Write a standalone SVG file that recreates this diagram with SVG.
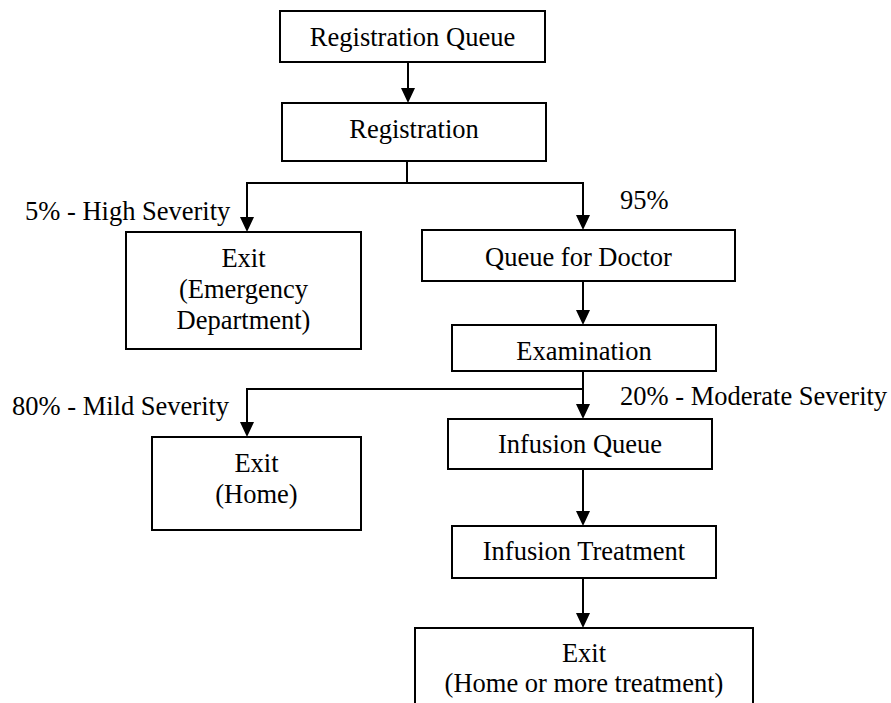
<svg xmlns="http://www.w3.org/2000/svg" width="891" height="703" viewBox="0 0 891 703">
<style>
.box{fill:#fff;stroke:#000;stroke-width:2}
.ln{fill:none;stroke:#000;stroke-width:2}
.ah{fill:#000;stroke:none}
text{font-family:'Liberation Serif','DejaVu Serif','Noto Serif',serif;font-size:26.5px;fill:#000}
.c{text-anchor:middle}
</style>
<rect width="891" height="703" fill="#fff"/>
<g id="connectors">
<line class="ln" x1="408" y1="62" x2="408" y2="90"/>
<polygon class="ah" points="401,88 415,88 408,103"/>
<polyline class="ln" points="407,161 407,183"/>
<polyline class="ln" points="407,183 247,183 247,219"/>
<polygon class="ah" points="240,217 254,217 247,232"/>
<polyline class="ln" points="407,183 583,183 583,217"/>
<polygon class="ah" points="576,215 590,215 583,230"/>
<line class="ln" x1="583" y1="281" x2="583" y2="312"/>
<polygon class="ah" points="576,310 590,310 583,325"/>
<line class="ln" x1="583" y1="371" x2="583" y2="406"/>
<polygon class="ah" points="576,404 590,404 583,419"/>
<polyline class="ln" points="583,389 247,389 247,424"/>
<polygon class="ah" points="240,422 254,422 247,437"/>
<line class="ln" x1="583" y1="469" x2="583" y2="513"/>
<polygon class="ah" points="576,511 590,511 583,526"/>
<line class="ln" x1="583" y1="578" x2="583" y2="615"/>
<polygon class="ah" points="576,613 590,613 583,628"/>
<text x="25" y="220">5% - High Severity</text>
<text x="620" y="209">95%</text>
<text x="12" y="415">80% - Mild Severity</text>
<text x="620" y="405">20% - Moderate Severity</text>
</g>
<g id="registration-queue">
<rect class="box" x="280" y="11" width="265" height="51"/>
<text class="c" x="412.5" y="46">Registration Queue</text>
</g>
<g id="registration">
<rect class="box" x="282" y="103" width="264" height="58"/>
<text class="c" x="414" y="138">Registration</text>
</g>
<g id="exit-emergency">
<rect class="box" x="126" y="232" width="235" height="117"/>
<text class="c" x="243.5" y="267">Exit</text>
<text class="c" x="243.5" y="298">(Emergency</text>
<text class="c" x="243.5" y="329">Department)</text>
</g>
<g id="queue-for-doctor">
<rect class="box" x="422" y="230" width="313" height="51"/>
<text class="c" x="578.5" y="266">Queue for Doctor</text>
</g>
<g id="examination">
<rect class="box" x="452" y="325" width="264" height="46"/>
<text class="c" x="584" y="360">Examination</text>
</g>
<g id="exit-home">
<rect class="box" x="152" y="437" width="209" height="93"/>
<text class="c" x="256.5" y="472">Exit</text>
<text class="c" x="256.5" y="503">(Home)</text>
</g>
<g id="infusion-queue">
<rect class="box" x="448" y="419" width="264" height="50"/>
<text class="c" x="580" y="453">Infusion Queue</text>
</g>
<g id="infusion-treatment">
<rect class="box" x="452" y="526" width="264" height="52"/>
<text class="c" x="584" y="560">Infusion Treatment</text>
</g>
<g id="exit-final">
<rect class="box" x="415" y="628" width="338" height="90"/>
<text class="c" x="584" y="662">Exit</text>
<text class="c" x="584" y="692">(Home or more treatment)</text>
</g>
</svg>
